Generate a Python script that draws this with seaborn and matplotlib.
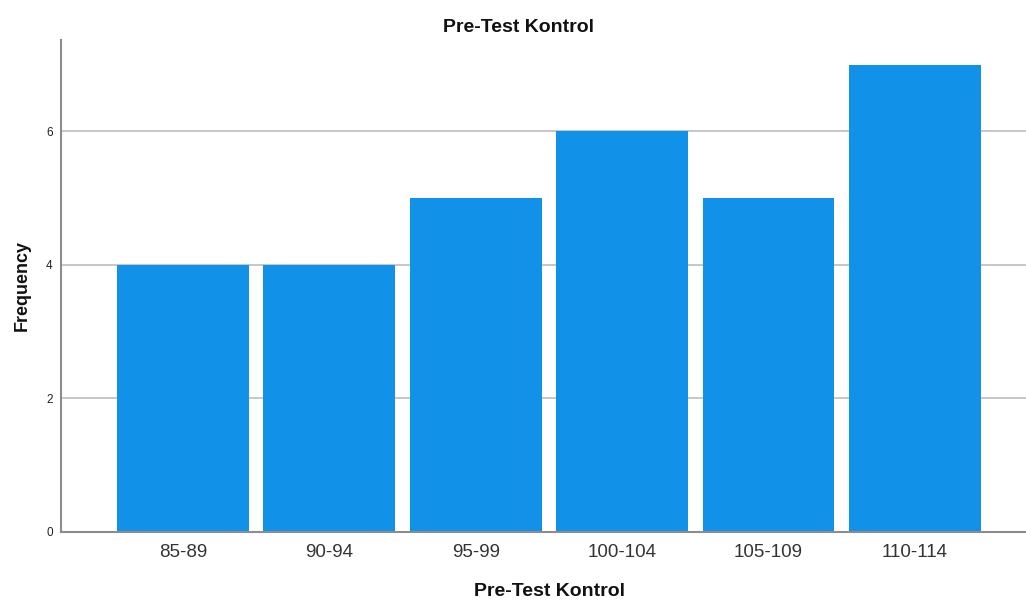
import matplotlib
matplotlib.use("Agg")
import matplotlib.pyplot as plt
import seaborn as sns
import pandas as pd

categories = ["85-89", "90-94", "95-99", "100-104", "105-109", "110-114"]
frequency = [4, 4, 5, 6, 5, 7]
y_ticks = [0, 2, 4, 6]

sns.set_theme(style="white")
plt.rcParams['font.family'] = ['Liberation Sans', 'DejaVu Sans']

df = pd.DataFrame({"cat": categories, "freq": frequency})

fig = plt.figure(figsize=(10.26, 6.01), dpi=100)
ax = fig.add_axes([0.0595, 0.1156, 0.9405, 0.8178])

ax.set_axisbelow(True)
for t in y_ticks[1:]:
    ax.axhline(t, color="#BDBDBD", lw=1.2, zorder=0)

sns.barplot(data=df, x="cat", y="freq", order=categories, color="#1192E8",
            saturation=1, width=0.9, ax=ax, zorder=2, edgecolor="#1192E8", linewidth=0)

ax.set_xlim(-0.833, 5.76)
ax.set_ylim(0, 7.37)
ax.set_yticks(y_ticks)
ax.set_yticklabels([str(t) for t in y_ticks], fontsize=8.5, color="#222222")
ax.tick_params(axis="x", labelsize=13.5, colors="#333333", length=0, pad=9)
ax.tick_params(axis="y", length=0, pad=6)

for s in ["top", "right"]:
    ax.spines[s].set_visible(False)
for s in ["left", "bottom"]:
    ax.spines[s].set_color("#8C8C8C")
    ax.spines[s].set_linewidth(1.5)

ax.set_xlabel("Pre-Test Kontrol", fontsize=14, fontweight="bold", color="#111111")
ax.xaxis.set_label_coords(0.5067, -0.105)
ax.set_ylabel("Frequency", fontsize=13, fontweight="bold", labelpad=11, color="#111111")
ax.set_title("Pre-Test Kontrol", fontsize=14, fontweight="bold", pad=6, color="#111111", x=0.4736)

fig.savefig("out.png", dpi=100)
